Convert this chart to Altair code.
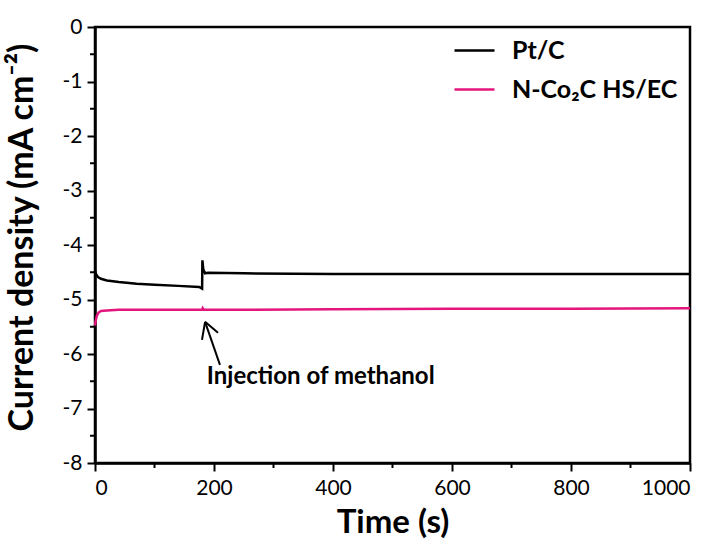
import altair as alt
import pandas as pd

# --- data ---
pt_t = [0, 2, 5, 10, 20, 40, 70, 100, 140, 175, 180, 180.5, 182, 185, 190, 250, 400, 600, 800, 1000]
pt_j = [-4.48, -4.54, -4.59, -4.62, -4.65, -4.68, -4.71, -4.73, -4.75, -4.77, -4.80,
        -4.28, -4.45, -4.52, -4.51, -4.52, -4.53, -4.53, -4.53, -4.53]

co_t = [0, 1, 3, 6, 10, 20, 40, 80, 150, 180, 181, 183, 250, 400, 600, 800, 1000]
co_j = [-5.48, -5.40, -5.30, -5.24, -5.21, -5.20, -5.19, -5.19, -5.19, -5.19, -5.16,
        -5.19, -5.19, -5.18, -5.17, -5.17, -5.16]

series_names = ["Pt/C", "N-Co\u2082C HS/EC"]
series_colors = ["#000000", "#E4157D"]

x_major = [0, 200, 400, 600, 800, 1000]
x_minor = [100, 300, 500, 700, 900]
y_major = [0, -1, -2, -3, -4, -5, -6, -7, -8]
y_minor = [-0.5, -1.5, -2.5, -3.5, -4.5, -5.5, -6.5, -7.5]

# annotation arrow segments (data coords): shaft + two head strokes
arrow_x1 = [210, 185, 185]
arrow_y1 = [-6.20, -5.41, -5.41]
arrow_x2 = [185, 179.8, 206.7]
arrow_y2 = [-5.41, -5.74, -5.61]
note_text = ["Injection of methanol"]
note_x = [188]
note_y = [-6.42]

FONT = "Lato"

df = pd.concat([
    pd.DataFrame({"t": pt_t, "j": pt_j, "s": series_names[0], "o": range(len(pt_t))}),
    pd.DataFrame({"t": co_t, "j": co_j, "s": series_names[1], "o": range(len(co_t))}),
])

xs = alt.Scale(domain=[0, 1000], nice=False)
ys = alt.Scale(domain=[-8, 0], nice=False)

hyphen_labels = "datum.value < 0 ? '-' + format(-datum.value, 'd') : format(datum.value, 'd')"

lines = alt.Chart(df).mark_line(strokeWidth=2.5).encode(
    x=alt.X("t:Q", scale=xs, axis=alt.Axis(
        values=x_major, title="Time (s)", titleX=297.5, titleY=59,
        titleBaseline="middle", titleFontSize=33, labelExpr=hyphen_labels)),
    y=alt.Y("j:Q", scale=ys, axis=alt.Axis(
        values=y_major, title="Current density (mA cm\u207b\u00b2)", titleX=-73, titleY=210,
        titleBaseline="middle", titleAngle=270, titleFontSize=34, labelExpr=hyphen_labels)),
    color=alt.Color("s:N", sort=series_names,
                    scale=alt.Scale(domain=series_names, range=series_colors),
                    legend=alt.Legend(title=None, orient="none", legendX=358, legendY=2,
                                      symbolType="stroke", symbolSize=1600,
                                      symbolStrokeWidth=2.5, labelFontSize=25,
                                      labelFontWeight="bold", labelFont=FONT,
                                      labelLimit=400,
                                      rowPadding=4, labelOffset=16, padding=0)),
    order="o:Q",
)

xminor = alt.Chart(pd.DataFrame({"v": x_minor})).mark_rule(color="black", strokeWidth=2).encode(
    x=alt.X("v:Q", scale=xs), y=alt.value(436), y2=alt.value(441))
yminor = alt.Chart(pd.DataFrame({"v": y_minor})).mark_rule(color="black", strokeWidth=2).encode(
    y=alt.Y("v:Q", scale=ys), x=alt.value(-5), x2=alt.value(0))

arrow = alt.Chart(pd.DataFrame({"x1": arrow_x1, "y1": arrow_y1, "x2": arrow_x2, "y2": arrow_y2})
                  ).mark_rule(color="black", strokeWidth=2).encode(
    x=alt.X("x1:Q", scale=xs), y=alt.Y("y1:Q", scale=ys), x2="x2:Q", y2="y2:Q")

note = alt.Chart(pd.DataFrame({"x": note_x, "y": note_y, "t": note_text})).mark_text(
    align="left", baseline="middle", fontSize=24, fontWeight="bold", font=FONT, color="black"
).encode(x=alt.X("x:Q", scale=xs), y=alt.Y("y:Q", scale=ys), text="t:N")

chart = alt.layer(lines, xminor, yminor, arrow, note).properties(
    width=595, height=436,
    autosize=alt.AutoSizeParams(type="none"),
    padding={"left": 95, "top": 27, "right": 32, "bottom": 83},
).configure_view(stroke="black", strokeWidth=2.5).configure_axis(
    domainColor="black", domainWidth=2.5, tickColor="black", tickWidth=2, tickSize=8,
    labelFont=FONT, labelFontSize=21, labelColor="black", labelPadding=5,
    titleFont=FONT, titleFontWeight="bold", titleColor="black", grid=False,
).configure_axisX(labelPadding=6).configure_legend(labelColor="black")

chart.save("out.html", embed_options={"renderer": "svg", "actions": False})
